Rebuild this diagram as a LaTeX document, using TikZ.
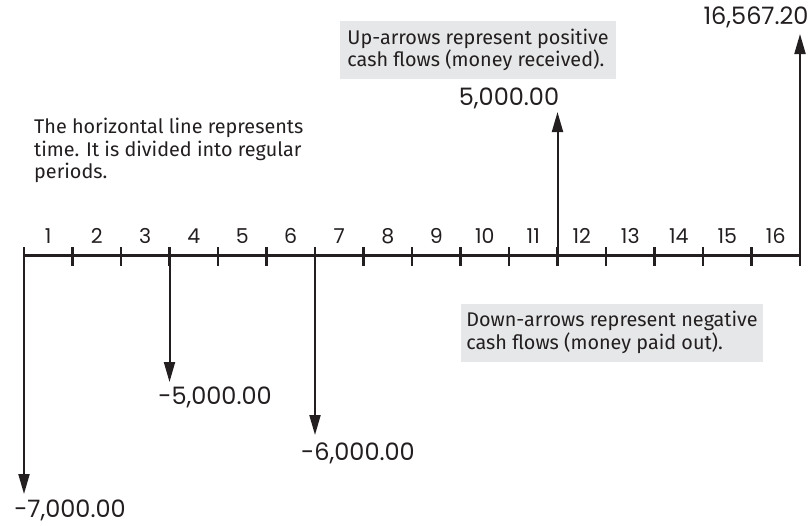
\documentclass[tikz,border=0pt]{standalone}
\usepackage{fontspec}
\setmainfont{Fira Sans}
\newfontfamily\numfont{Poppins}
\usetikzlibrary{arrows.meta, positioning, calc}
\definecolor{ink}{HTML}{231F20}
\definecolor{boxgray}{HTML}{E6E7E8}

\begin{document}
\begin{tikzpicture}[
  x=1pt, y=-1pt,
  axisline/.style={line width=2.7pt, draw=ink},
  flow/.style={-{Triangle[length=20pt,width=11pt]}, line width=2pt, draw=ink},
  amount/.style={font=\numfont\fontsize{24}{28}\selectfont, text=ink, inner sep=0pt},
  period/.style={font=\numfont\fontsize{20.5}{24}\selectfont, text=ink, inner sep=0pt},
  note/.style={font=\fontsize{19.8}{22.5}\selectfont, align=left, text=ink, inner sep=0pt},
  notebox/.style={note, fill=boxgray, minimum width=276pt, minimum height=58pt}
]
\useasboundingbox (0,0) rectangle (811,525);

% time line with period ticks
\foreach \i in {0,...,16}
  \coordinate (t\i) at ({24+48.5*\i},255.5);
\draw[axisline] (t0) -- (t16);
\foreach \i in {0,...,16}
  \draw[axisline] ($(t\i)+(0,-8.5)$) -- ($(t\i)+(0,10)$);
\foreach \i in {1,...,16}
  \node[period] (p\i) at ({24+48.5*(\i-0.5)},236) {\i};

% cash flows
\coordinate (e0) at (t0 |- 0,494);
\coordinate (e3) at (t3 |- 0,382);
\coordinate (e6) at (t6 |- 0,435);
\coordinate (e11) at (t11 |- 0,112);
\coordinate (e16) at (t16 |- 0,34);
\draw[flow] (t0) -- (e0);
\draw[flow] (t3) -- (e3);
\draw[flow] (t6) -- (e6);
\draw[flow] (t11) -- (e11);
\draw[flow] (t16) -- (e16);
\node[amount] (a0) at (70,510) {-7,000.00};
\node[amount] (a3) at (215,397) {-5,000.00};
\node[amount] (a6) at (358,453) {-6,000.00};
\node[amount] (a11) at (509,98) {5,000.00};
\node[amount] (a16) at (756,17) {16,567.20};

% notes
\node[note, anchor=north west] (timenote) at (34,118)
  {The horizontal line represents\\time. It is divided into regular\\periods.};
\node[notebox] (upnote) at (478,50)
  {Up-arrows represent positive\\cash flows (money received).};
\node[notebox, minimum width=302pt] (downnote) at (612,332.5)
  {Down-arrows represent negative\\cash flows (money paid out).};
\end{tikzpicture}
\end{document}
